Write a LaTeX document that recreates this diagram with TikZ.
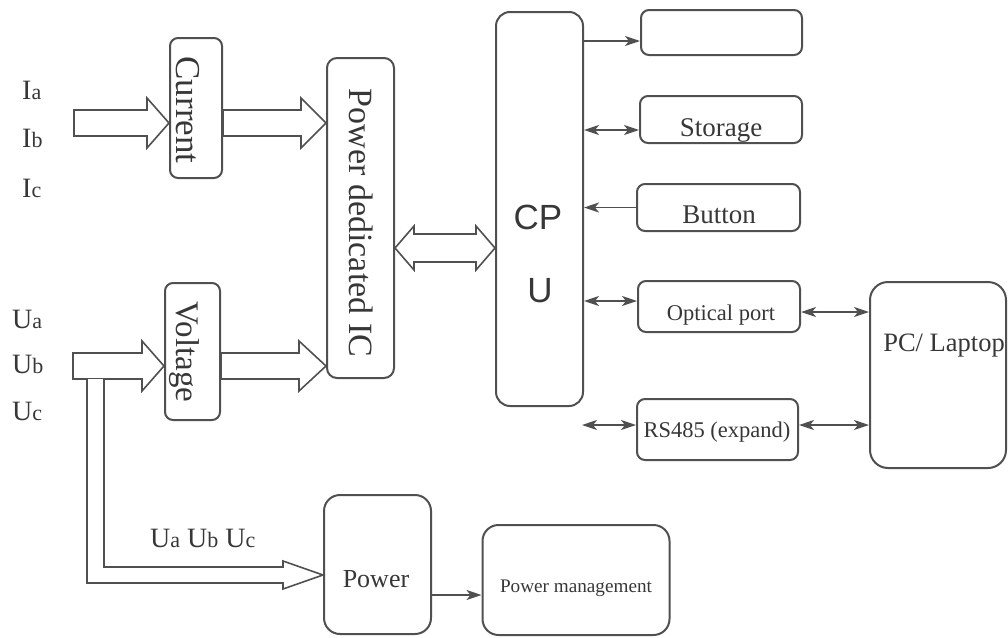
\documentclass[tikz,border=0pt]{standalone}
\usepackage{fontspec}
\setmainfont{Liberation Serif}
\newfontfamily\arialfam{Liberation Sans}
\usetikzlibrary{arrows.meta,calc}
\definecolor{ink}{RGB}{80,80,80}
\definecolor{txtc}{RGB}{55,55,55}
\newcommand\fsz[1]{\fontsize{#1}{#1}\selectfont}
\newcommand\lbl[2]{{\fsz{28}#1}{\fsz{22}#2}}
\newcommand\blkarrow[3]{%
  \draw[blk] let \p1=(#1), \p2=(#2) in
    (\x1,\y1+13pt) -- (\x2-#3,\y1+13pt) -- (\x2-#3,\y1+25pt) -- (\x2,\y1)
    -- (\x2-#3,\y1-25pt) -- (\x2-#3,\y1-13pt) -- (\x1,\y1-13pt) -- cycle;}
\begin{document}
\begin{tikzpicture}[x=1pt,y=-1pt,
  box/.style={draw=ink, line width=2pt, rounded corners=8pt, inner sep=0pt},
  blk/.style={draw=ink, line width=1.6pt, fill=white, line join=miter},
  thinarr/.style={draw=ink, line width=1.7pt, -{Stealth[length=15pt,width=10pt,inset=4pt]}},
  dblarr/.style={draw=ink, line width=1.7pt, {Stealth[length=15pt,width=10pt,inset=4pt]}-{Stealth[length=15pt,width=10pt,inset=4pt]}},
  tx/.style={text=txtc, inner sep=0pt}]
\useasboundingbox (0,0) rectangle (1008,637);

% boxes
\node[box, minimum width=52pt, minimum height=140pt] (cur) at (196,108) {};
\node[tx, rotate=-90, font=\fsz{35}] (curT) at (188,110) {Current};
\node[box, minimum width=55pt, minimum height=137pt] (vol) at (192.5,351.5) {};
\node[tx, rotate=-90, font=\fsz{33}] (volT) at (184,352) {Voltage};
\node[box, rounded corners=10pt, minimum width=67pt, minimum height=320pt] (ic) at (360.5,218) {};
\node[tx, rotate=-90, font=\fsz{34}] (icT) at (361,223) {Power dedicated IC};
\node[box, rounded corners=14pt, minimum width=87pt, minimum height=394pt] (cpu) at (539.5,209) {};
\node[tx, font=\arialfam\fsz{35}, anchor=base] (cpuT1) at (538,229) {CP};
\node[tx, font=\arialfam\fsz{35}, anchor=base] (cpuT2) at (540,302) {U};

\node[box, minimum width=161pt, minimum height=45pt] (disp) at (721.5,32.5) {};
\node[box, minimum width=162pt, minimum height=47pt] (sto) at (721,119.5) {};
\node[tx, font=\fsz{27}, anchor=base] (stoT) at (721,136) {Storage};
\node[box, minimum width=163pt, minimum height=47pt] (btn) at (718.5,207.5) {};
\node[tx, font=\fsz{27}, anchor=base] (btnT) at (719,223) {Button};
\node[box, minimum width=162pt, minimum height=51pt] (opt) at (719,306.5) {};
\node[tx, font=\fsz{22.5}, anchor=base] (optT) at (721,320) {Optical port};
\node[box, minimum width=161pt, minimum height=61pt] (rs) at (717.5,429.5) {};
\node[tx, font=\fsz{22.5}, anchor=base] (rsT) at (717,437) {RS485 (expand)};
\node[box, rounded corners=18pt, minimum width=136pt, minimum height=186pt] (pc) at (938,375) {};
\node[tx, font=\fsz{26.5}, anchor=base] (pcT) at (944,351) {PC/ Laptop};
\node[box, rounded corners=16pt, minimum width=107pt, minimum height=139pt] (pwr) at (377.5,564.5) {};
\node[tx, font=\fsz{26}, anchor=base] (pwrT) at (376,587) {Power};
\node[box, rounded corners=16pt, minimum width=187pt, minimum height=110pt] (pm) at (576,580) {};
\node[tx, font=\fsz{19.2}, anchor=base] (pmT) at (576,592) {Power management};

% input labels
\node[tx, font=\fsz{28}, anchor=base west] (ia) at (22,99) {\lbl{I}{a}};
\node[tx, font=\fsz{28}, anchor=base west] (ib) at (22,147) {\lbl{I}{b}};
\node[tx, font=\fsz{28}, anchor=base west] (ic3) at (22,197) {\lbl{I}{c}};
\node[tx, font=\fsz{28}, anchor=base west] (ua) at (12,328) {\lbl{U}{a}};
\node[tx, font=\fsz{28}, anchor=base west] (ub) at (12,373) {\lbl{U}{b}};
\node[tx, font=\fsz{28}, anchor=base west] (uc) at (12,420) {\lbl{U}{c}};
\node[tx, font=\fsz{28}, anchor=base west] (uabc) at (150,547) {\lbl{U}{a} \lbl{U}{b} \lbl{U}{c}};

% block arrows
\coordinate (ci) at (74,123);
\blkarrow{ci}{ci -| cur.west}{22pt}
\blkarrow{ci -| cur.east}{ci -| ic.west}{25pt}
\coordinate (vi) at (73,366);
\blkarrow{vi}{vi -| vol.west}{22pt}
\blkarrow{vi -| vol.east}{vi -| ic.west}{27pt}
\coordinate (di) at (0,248);
\draw[blk] let \p1=(di -| ic.east), \p2=(di -| cpu.west) in
  (\x1,\y1) -- (\x1+19pt,\y1+22pt) -- (\x1+19pt,\y1+14pt) -- (\x2-19pt,\y1+14pt)
  -- (\x2-19pt,\y1+22pt) -- (\x2,\y1) -- (\x2-19pt,\y1-22pt) -- (\x2-19pt,\y1-14pt)
  -- (\x1+19pt,\y1-14pt) -- (\x1+19pt,\y1-22pt) -- cycle;
\coordinate (pi) at (0,575);
\draw[blk] (87,379) -- (87,583) -- (283,583) -- (283,589) -- (pwr.west |- pi)
  -- (283,561) -- (283,567) -- (104,567) -- (104,379);

% thin arrows
\coordinate (l1) at (0,41);
\draw[thinarr] (cpu.east |- l1) -- (disp.west |- l1);
\coordinate (l2) at (0,130);
\draw[dblarr] (cpu.east |- l2) -- (sto.west |- l2);
\draw[thinarr] (btn.west) -- (cpu.east |- btn.west);
\coordinate (l4) at (0,301);
\draw[dblarr] (cpu.east |- l4) -- (opt.west |- l4);
\coordinate (l5) at (0,312);
\draw[dblarr] (opt.east |- l5) -- (pc.west |- l5);
\coordinate (rsL) at (582,425);
\draw[dblarr] (rsL) -- (rs.west |- rsL);
\draw[dblarr] (rs.east |- rsL) -- (pc.west |- rsL);
\coordinate (l7) at (0,595);
\draw[thinarr] (pwr.east |- l7) -- (pm.west |- l7);
\end{tikzpicture}
\end{document}
